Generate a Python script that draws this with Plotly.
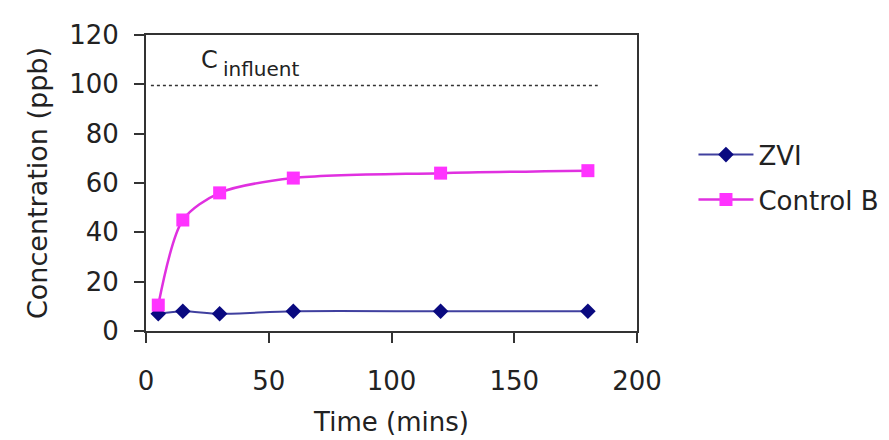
import plotly.graph_objects as go

time_mins = [5, 15, 30, 60, 120, 180]
zvi = [7, 8, 7, 8, 8, 8]
control_b = [10.5, 45, 56, 62, 64, 65]
influent_x = [2, 184]
influent_y = [99.5, 99.5]
x_ticks = [0, 50, 100, 150, 200]
y_ticks = [0, 20, 40, 60, 80, 100, 120]

FONT = "DejaVu Sans"
TXT = "#222222"

fig = go.Figure()
fig.add_trace(go.Scatter(
    x=influent_x, y=influent_y, mode="lines", showlegend=False,
    line=dict(color="#333333", width=1.5, dash="dot"), hoverinfo="skip"))
fig.add_trace(go.Scatter(
    x=time_mins, y=zvi, name="ZVI", legendgroup="a", mode="lines+markers",
    line=dict(color="#40409f", width=2, shape="spline", smoothing=0.8),
    marker=dict(symbol="diamond", size=12, color="#0a0a80")))
fig.add_trace(go.Scatter(
    x=time_mins, y=control_b, name="Control B", legendgroup="b", mode="lines+markers",
    line=dict(color="#e030e0", width=2.5, shape="spline", smoothing=0.8),
    marker=dict(symbol="square", size=13, color="#ff33ff")))

fig.add_annotation(x=25.7, y=109.8, xref="x", yref="y", text="C", showarrow=False,
                   font=dict(family=FONT, size=24, color=TXT))
fig.add_annotation(x=46.8, y=106.3, xref="x", yref="y", text="influent", showarrow=False,
                   font=dict(family=FONT, size=20, color=TXT))

axis_common = dict(showline=True, linecolor="#333333", linewidth=2, mirror=True,
                   ticks="outside", ticklen=10, tickwidth=1.5, tickcolor="#333333",
                   showgrid=False, zeroline=False,
                   tickfont=dict(family=FONT, size=26, color=TXT))

fig.update_layout(
    width=889, height=440,
    margin=dict(l=138, r=256, t=23, b=117),
    paper_bgcolor="white", plot_bgcolor="white",
    font=dict(family=FONT, size=26, color=TXT),
    xaxis=dict(range=[0, 200], tickvals=x_ticks, ticklabelstandoff=16,
               title=dict(text="Time (mins)", standoff=18,
                          font=dict(family=FONT, size=26, color=TXT)),
               **axis_common),
    yaxis=dict(range=[0, 120], tickvals=y_ticks, ticklabelstandoff=10,
               title=dict(text="Concentration (ppb)", standoff=14,
                          font=dict(family=FONT, size=27, color=TXT)),
               **axis_common),
    legend=dict(x=1.115, y=0.675, xanchor="left", yanchor="top",
                font=dict(family=FONT, size=26, color=TXT),
                tracegroupgap=8, itemwidth=55, bgcolor="rgba(0,0,0,0)"),
    showlegend=True,
)

fig.write_html("out.html")
